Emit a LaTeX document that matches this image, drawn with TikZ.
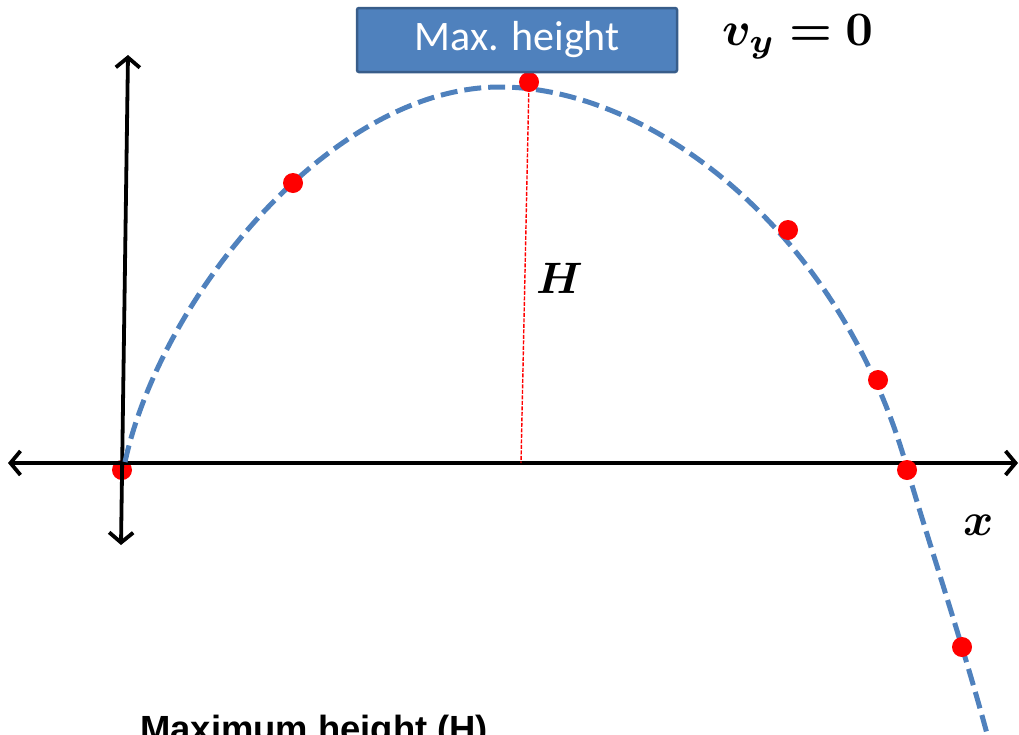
\documentclass[tikz,border=0pt]{standalone}
\usepackage{fontspec}
\usepackage{bm}
\usepackage{graphicx}
\newfontfamily\calibfont{Carlito}
\newfontfamily\arialfont{Liberation Sans}
\usetikzlibrary{arrows.meta}
\definecolor{curveblue}{RGB}{79,129,189}
\definecolor{boxborder}{RGB}{56,93,138}
\definecolor{dotred}{RGB}{255,0,0}
\begin{document}
\begin{tikzpicture}[x=1pt,y=-1pt,
  axisline/.style={line width=3.8pt, {Straight Barb[length=10pt,width=24pt]}-{Straight Barb[length=10pt,width=24pt]}},
  dotnode/.style={circle, fill=dotred, inner sep=0pt, minimum size=20pt},
  pathcurve/.style={curveblue, line width=5pt, dash pattern=on 17pt off 7pt},
  heightline/.style={dotred, line width=1.4pt, dash pattern=on 4pt off 1.5pt},
  labelbox/.style={draw=boxborder, fill=curveblue, line width=2.5pt, rounded corners=2pt,
    minimum width=320pt, minimum height=64pt, inner sep=0pt, text=white,
    font=\calibfont\fontsize{42}{46}\selectfont},
  mathlabel/.style={inner sep=0pt, anchor=base west}
]
\useasboundingbox (0,0) rectangle (1019,734);
% origin dot (beneath axes)
\node[dotnode] (p0) at (122,470) {};
% axes
\coordinate (xl) at (8,463);
\coordinate (xr) at (1018,463);
\coordinate (yb) at (121,545);
\coordinate (yt) at (128,55);
\draw[axisline] (xl) -- (xr);
\draw[axisline] (yb) -- (yt);
% trajectory
\coordinate (c0) at (125,462);
\coordinate (c1) at (500,87);
\coordinate (c2) at (907,468);
\coordinate (c3) at (990,745);
\draw[pathcurve] (c0) .. controls (160,300) and (330,87) .. (c1)
  .. controls (650,87) and (840,230) .. (c2)
  .. controls (924,528) and (965,650) .. (c3);
% points
\node[dotnode] (p1) at (293,183) {};
\node[dotnode] (p2) at (529,82) {};
\node[dotnode] (p3) at (788,230) {};
\node[dotnode] (p4) at (878,380) {};
\node[dotnode] (p5) at (907,470) {};
\node[dotnode] (p6) at (962,647) {};
% height line
\coordinate (hb) at (521,463);
\draw[heightline] (p2.center) -- (hb);
% labels
\node[labelbox] (maxh) at (517,40) {Max. height};
\node[mathlabel] (vy) at (722,45) {\scalebox{4.8}{$\boldsymbol{v_y=0}$}};
\node[mathlabel] (hlab) at (536,293) {\scalebox{4.4}{$\boldsymbol{H}$}};
\node[mathlabel] (xlab) at (963,535) {\scalebox{4.6}{$\boldsymbol{x}$}};
\node[mathlabel, font=\arialfont\bfseries\fontsize{36.4}{40}\selectfont] (title) at (140,741) {Maximum height (H)};
\end{tikzpicture}
\end{document}
